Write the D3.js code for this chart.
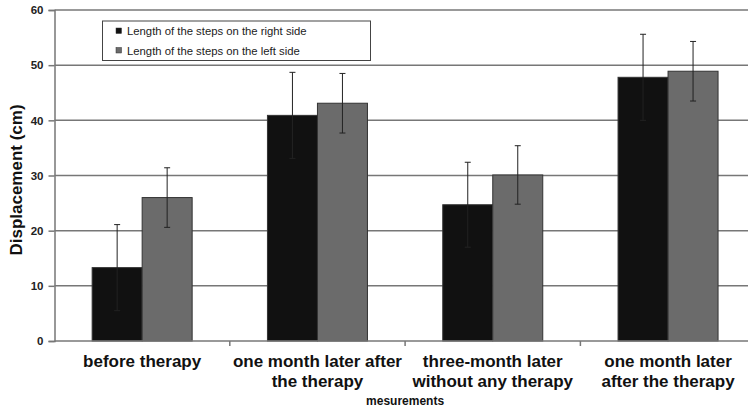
<!DOCTYPE html>
<html><head><meta charset="utf-8">
<script src="https://cdn.jsdelivr.net/npm/d3@7"></script>
<style>body{margin:0;background:#fff}svg{display:block;font-family:"Liberation Sans",Arial,sans-serif}</style>
</head><body><svg id="c" width="748" height="409"></svg>
<script>
const categories = [["before therapy"], ["one month later after", "the therapy"], ["three-month later", "without any therapy"], ["one month later", "after the therapy"]];
const seriesNames = ["Length of the steps on the right side", "Length of the steps on the left side"];
const rightValues = [13.3, 40.9, 24.7, 47.8];
const rightErrors = [7.8, 7.8, 7.7, 7.8];
const leftValues = [26.0, 43.1, 30.1, 48.9];
const leftErrors = [5.4, 5.4, 5.3, 5.4];
const yTicks = [0, 10, 20, 30, 40, 50, 60];
const colors = ["#111111", "#6b6b6b"];

const svg = d3.select("#c");
const m = {l: 54.5, r: 755.7, t: 10, b: 341};
const x = d3.scaleBand().domain(d3.range(categories.length)).range([m.l, m.r]).paddingInner(0).paddingOuter(0);
const y = d3.scaleLinear().domain([0, 60]).range([m.b, m.t]);
const sub = d3.scaleBand().domain([0, 1]).range([0, 100]);
const off = (x.bandwidth() - 100) / 2;

// gridlines
svg.append("g").selectAll("line").data(yTicks.slice(1)).join("line")
  .attr("x1", m.l).attr("x2", 748).attr("y1", d => y(d)).attr("y2", d => y(d))
  .attr("stroke", "#777").attr("stroke-width", 1.5);

// bars
const series = [
  {vals: rightValues, errs: rightErrors},
  {vals: leftValues, errs: leftErrors}
];
series.forEach((s, si) => {
  const g = svg.append("g");
  g.selectAll("rect").data(s.vals).join("rect")
    .attr("x", (d, i) => x(i) + off + sub(si))
    .attr("y", d => y(d))
    .attr("width", sub.bandwidth())
    .attr("height", d => y(0) - y(d))
    .attr("fill", colors[si]).attr("stroke", "#333").attr("stroke-width", 1);
  const cx = i => x(i) + off + sub(si) + sub.bandwidth() / 2;
  g.selectAll("line.e").data(s.vals).join("line").attr("class", "e")
    .attr("x1", (d, i) => cx(i)).attr("x2", (d, i) => cx(i))
    .attr("y1", (d, i) => y(d + s.errs[i])).attr("y2", (d, i) => y(d - s.errs[i]))
    .attr("stroke", "#222").attr("stroke-width", 1);
  [1, -1].forEach(sg => {
    g.selectAll("line.c" + sg).data(s.vals).join("line")
      .attr("x1", (d, i) => cx(i) - 3).attr("x2", (d, i) => cx(i) + 3)
      .attr("y1", (d, i) => y(d + sg * s.errs[i])).attr("y2", (d, i) => y(d + sg * s.errs[i]))
      .attr("stroke", "#222").attr("stroke-width", 1);
  });
});

// y axis
const ya = svg.append("g").attr("transform", `translate(${m.l},0)`)
  .call(d3.axisLeft(y).tickValues(yTicks).tickSize(6).tickPadding(5));
ya.select(".domain").attr("stroke", "#777").attr("stroke-width", 1.5);
ya.selectAll(".tick line").attr("stroke", "#777").attr("stroke-width", 1.5);
ya.selectAll(".tick text").attr("font-size", 11.5).attr("font-weight", "bold").attr("fill", "#222")
  .attr("font-family", "Liberation Sans, Arial, sans-serif");

// x axis
svg.append("line").attr("x1", m.l).attr("x2", 748).attr("y1", y(0)).attr("y2", y(0))
  .attr("stroke", "#777").attr("stroke-width", 1.5);
svg.append("g").selectAll("line").data(d3.range(1, categories.length)).join("line")
  .attr("x1", d => x(d)).attr("x2", d => x(d)).attr("y1", y(0)).attr("y2", y(0) + 5)
  .attr("stroke", "#777").attr("stroke-width", 1.5);

// category labels
categories.forEach((lines, i) => {
  const t = svg.append("text").attr("x", x(i) + x.bandwidth() / 2).attr("y", 366.5)
    .attr("text-anchor", "middle").attr("font-size", 17).attr("font-weight", "bold").attr("fill", "#111");
  lines.forEach((l, j) => t.append("tspan").attr("x", x(i) + x.bandwidth() / 2).attr("dy", j ? 20 : 0).text(l));
});
svg.append("text").attr("x", (m.l + m.r) / 2).attr("y", 404.5).attr("text-anchor", "middle")
  .attr("font-size", 12).attr("font-weight", "bold").attr("fill", "#111").text("mesurements");

// y label
svg.append("text").attr("transform", `translate(22,180) rotate(-90)`)
  .attr("text-anchor", "middle").attr("font-size", 17).attr("font-weight", "bold").attr("fill", "#111")
  .text("Displacement (cm)");

// legend
const lg = svg.append("g");
lg.append("rect").attr("x", 102.5).attr("y", 21).attr("width", 268).attr("height", 39.5)
  .attr("fill", "#fff").attr("stroke", "#444").attr("stroke-width", 1);
seriesNames.forEach((n, i) => {
  const yy = 31 + i * 19.5;
  lg.append("rect").attr("x", 116).attr("y", yy - 3).attr("width", 5.5).attr("height", 5.5)
    .attr("fill", colors[i]).attr("stroke", "#333").attr("stroke-width", 0.5);
  lg.append("text").attr("x", 127).attr("y", yy + 4).attr("font-size", 11.3).attr("fill", "#222").text(n);
});
</script></body></html>
